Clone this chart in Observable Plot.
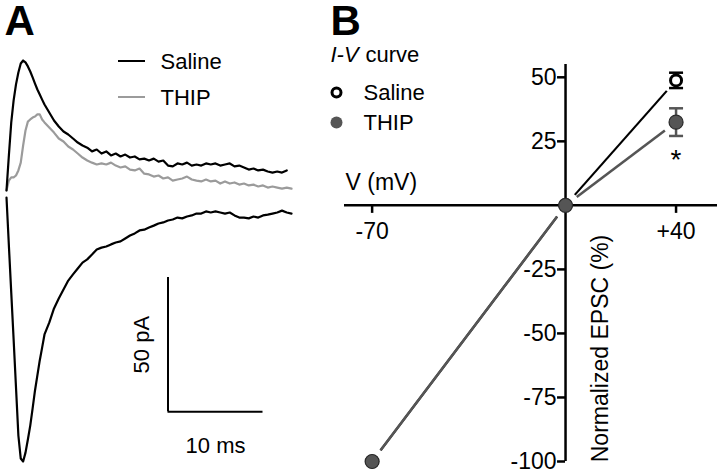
<!DOCTYPE html>
<html><head><meta charset="utf-8">
<script src="https://cdn.jsdelivr.net/npm/d3@7"></script>
<script src="https://cdn.jsdelivr.net/npm/@observablehq/plot@0.6"></script>
<style>
body{margin:0;background:#fff;}
#fig{position:relative;width:720px;height:472px;overflow:hidden;background:#fff;}
#a{position:absolute;left:0;top:0;}
#b{position:absolute;left:310px;top:0;}
.sw{position:absolute;height:2.5px;width:27px;}
</style></head><body>
<div id="fig"><div id="a"></div><div id="b"></div>
<div class="sw" style="left:118px;top:59.5px;background:#000"></div>
<div class="sw" style="left:118px;top:95.5px;background:#9b9b9b"></div>
</div>
<script>
// ---------- Panel A: EPSC traces (time in ms, current in pA) ----------
const timeMs = [0,0.25,0.5,0.75,1,1.25,1.5,1.75,2,2.25,2.5,2.75,3,3.25,3.5,3.75,4,
  4.5,5,5.5,6,6.5,7,7.5,8,8.5,9,9.5,10,10.5,11,11.5,12,12.5,13,13.5,14,14.5,15,15.5,16,16.5,
  17,17.5,18,18.5,19,19.5,20,20.5,21,21.5,22,22.5,23,23.5,24,24.5,25,25.5,26,26.5,27,27.5,28,28.5,29,29.5,30];
const salineOut = [0,13.1,25.4,33.6,39.6,44.0,47.4,48.5,47.8,46.3,44.4,42.2,39.9,37.7,35.8,33.9,32.1,
  29.1,26.1,23.9,22.0,20.9,19.4,17.9,16.8,16.0,14.6,15.3,13.8,14.6,13.1,13.8,12.7,13.4,12.3,12.7,11.6,11.9,11.2,11.9,10.8,11.2,
  9.3,9.0,10.1,9.7,10.4,9.3,9.7,9.3,10.1,9.7,10.1,9.3,9.7,10.1,9.0,9.3,8.6,7.8,8.2,7.5,7.8,7.1,6.7,7.1,6.7,7.5,NaN];
const thipOut = [0,3.7,4.9,4.9,5.6,7.5,10.4,16.8,22.4,25.7,26.5,27.2,27.6,28.4,28.4,26.5,25.4,
  23.5,21.6,19.4,18.3,16.4,15.3,13.8,12.3,11.2,10.4,9.7,10.1,9.7,10.4,9.3,8.6,9.0,7.8,7.5,8.2,6.3,6.0,5.2,5.6,4.5,
  4.9,3.7,4.1,4.5,5.2,4.1,3.7,3.4,4.1,3.4,3.7,2.6,3.4,2.6,3.0,2.2,2.6,1.9,2.2,1.5,1.9,1.1,1.5,1.1,0.7,1.1,0.7];
const salineIn = [-2.6,-20.5,-38.1,-55.6,-73.5,-91.4,-100.0,-101.1,-97.8,-92.9,-87.7,-81.3,-74.6,-69.0,-63.4,-58.6,-53.7,
  -49.3,-44.0,-40.3,-36.9,-33.6,-31.3,-29.1,-26.9,-25.7,-23.9,-22.0,-21.3,-20.9,-20.1,-19.4,-19.0,-17.9,-16.8,-16.0,-14.9,-14.6,-13.8,-13.1,-12.3,-11.9,
  -11.2,-10.8,-10.1,-10.4,-9.7,-9.3,-8.6,-8.6,-7.8,-8.2,-7.8,-8.2,-8.6,-8.2,-9.3,-10.1,-10.1,-10.4,-9.7,-10.1,-9.3,-9.0,-8.6,-8.2,-7.5,-8.2,-8.6];
const traceLegend = ["Saline", "THIP"];
const scaleBar = {t: 17, i: -82.5, dt: 10, di: 50}; // 10 ms, 50 pA

// ---------- Panel B: I-V curve ----------
const voltage = [-70, 0, 40];
const salineEPSC = [-100, 0, 48.8];
const salineSEM = [0, 0, 3];
const thipEPSC = [-100, 0, 32.5];
const thipSEM = [0, 0, 5.4];
const yTicks = [50, 25, -25, -50, -75, -100];
const xTicks = [-70, 40];

const FONT = "'Liberation Sans', Arial, Helvetica, sans-serif";
const BLACK = "#000", LIGHT = "#9b9b9b", DARK = "#555";

const tr = (ys) => timeMs.map((t, i) => ({t, v: ys[i]}));
const label = (txt, dx, dy, opts = {}) =>
  Plot.text([txt], {frameAnchor: "top-left", lineAnchor: "middle", textAnchor: "start", dx, dy, fontSize: 22, fill: BLACK, ...opts});

const plotA = Plot.plot({
  width: 310, height: 472, margin: 0,
  x: {domain: [0, 30], range: [6, 291], axis: null},
  y: {domain: [-102, 50], range: [463.4, 56], axis: null},
  style: {fontFamily: FONT, background: "transparent", overflow: "visible"},
  marks: [
    Plot.line(tr(thipOut), {x: "t", y: "v", stroke: LIGHT, strokeWidth: 2.2}),
    Plot.line(tr(salineOut), {x: "t", y: "v", stroke: BLACK, strokeWidth: 2.2}),
    Plot.line(tr(salineIn), {x: "t", y: "v", stroke: BLACK, strokeWidth: 2.2}),
    Plot.ruleX([scaleBar], {x: "t", y1: "i", y2: d => d.i + d.di, stroke: BLACK, strokeWidth: 2}),
    Plot.ruleY([scaleBar], {y: "i", x1: "t", x2: d => d.t + d.dt, stroke: BLACK, strokeWidth: 2}),
    Plot.text([scaleBar], {x: "t", y: d => d.i + d.di / 2, text: d => d.di + " pA", rotate: -90, dx: -26, fontSize: 22, fill: BLACK}),
    Plot.text([scaleBar], {x: d => d.t + d.dt / 2, y: "i", text: d => d.dt + " ms", dy: 34, fontSize: 22, fill: BLACK}),
    label("A", 4, 21.5, {fontSize: 42, fontWeight: "bold"}),
    label(traceLegend[0], 160, 61),
    label(traceLegend[1], 160, 97)
  ]
});
document.getElementById("a").appendChild(plotA);

// Panel B geometry
const BW = 410, BH = 472, mL = 34, mR = 3, mT = 64, mB = 11;
const xDom = [-80, 55], yDom = [-100, 55];
const pxX = (BW - mL - mR) / (xDom[1] - xDom[0]);
const pxY = (BH - mT - mB) / (yDom[1] - yDom[0]);
const GAP = 14; // px gap between line ends and markers

function segments(vals) {
  const out = [];
  for (let i = 0; i < voltage.length - 1; i++) {
    const x0 = voltage[i], y0 = vals[i], x1 = voltage[i + 1], y1 = vals[i + 1];
    const L = Math.hypot((x1 - x0) * pxX, (y1 - y0) * pxY);
    const f = GAP / L;
    out.push({x1: x0 + f * (x1 - x0), y1: y0 + f * (y1 - y0), x2: x1 - f * (x1 - x0), y2: y1 - f * (y1 - y0)});
  }
  return out;
}
const pts = (vals, sems) => voltage.map((v, i) => ({v, m: vals[i], s: sems[i]}));
const salinePts = pts(salineEPSC, salineSEM);
const thipPts = pts(thipEPSC, thipSEM);
const capHalf = 7 / pxX;

function errMarks(data, color) {
  const d = data.filter(p => p.s > 0);
  return [
    Plot.ruleX(d, {x: "v", y1: p => p.m - p.s, y2: p => p.m + p.s, stroke: color, strokeWidth: 2.5}),
    Plot.link(d, {x1: p => p.v - capHalf, x2: p => p.v + capHalf, y1: p => p.m + p.s, y2: p => p.m + p.s, stroke: color, strokeWidth: 2.5}),
    Plot.link(d, {x1: p => p.v - capHalf, x2: p => p.v + capHalf, y1: p => p.m - p.s, y2: p => p.m - p.s, stroke: color, strokeWidth: 2.5})
  ];
}

const plotB = Plot.plot({
  width: BW, height: BH, marginLeft: mL, marginRight: mR, marginTop: mT, marginBottom: mB,
  x: {domain: xDom, axis: null},
  y: {domain: yDom, axis: null},
  style: {fontFamily: FONT, background: "transparent", overflow: "visible"},
  marks: [
    Plot.ruleY([0], {stroke: BLACK, strokeWidth: 2.5}),
    Plot.ruleX([0], {stroke: BLACK, strokeWidth: 2.5}),
    Plot.ruleY(yTicks, {y: d => d, x1: -8 / pxX, x2: 0, stroke: BLACK, strokeWidth: 2.5}),
    Plot.ruleX(xTicks, {x: d => d, y1: -8 / pxY, y2: 0, stroke: BLACK, strokeWidth: 2.5}),
    Plot.text(yTicks, {x: 0, y: d => d, text: d => String(d), textAnchor: "end", dx: -9, fontSize: 23, fill: BLACK}),
    Plot.text(xTicks, {x: d => d, y: 0, text: d => (d > 0 ? "+" + d : String(d)), dy: 26, fontSize: 23, fill: BLACK}),
    Plot.link(segments(salineEPSC), {x1: "x1", y1: "y1", x2: "x2", y2: "y2", stroke: BLACK, strokeWidth: 2.2}),
    Plot.link(segments(thipEPSC), {x1: "x1", y1: "y1", x2: "x2", y2: "y2", stroke: DARK, strokeWidth: 2.6}),
    ...errMarks(salinePts, BLACK),
    ...errMarks(thipPts, DARK),
    Plot.dot(salinePts, {x: "v", y: "m", r: 5.5, fill: "#fff", stroke: BLACK, strokeWidth: 3}),
    Plot.dot(thipPts, {x: "v", y: "m", r: 7, fill: DARK, stroke: "#2a2a2a", strokeWidth: 1.2}),
    Plot.text(thipPts.filter(p => p.s > 0), {x: "v", y: p => p.m - p.s, text: () => "*", dy: 24, fontSize: 28, fill: BLACK}),
    label("B", -14, -42.5, {fontSize: 42, fontWeight: "bold"}),
    label("I-V", -14, -10, {fontStyle: "italic"}),
    label("curve", 21, -10),
    Plot.dot([0], {frameAnchor: "top-left", dx: -8, dy: 28, r: 4.5, fill: "#fff", stroke: BLACK, strokeWidth: 3}),
    Plot.dot([0], {frameAnchor: "top-left", dx: -8, dy: 58, r: 6, fill: DARK}),
    label(traceLegend[0], 19, 28),
    label(traceLegend[1], 19, 58),
    label("V (mV)", 1, 118, {fontSize: 23}),
    label("Normalized EPSC (%)", 256, 284, {fontSize: 23, rotate: -90, textAnchor: "middle"})
  ]
});
document.getElementById("b").appendChild(plotB);
</script>
</body></html>
